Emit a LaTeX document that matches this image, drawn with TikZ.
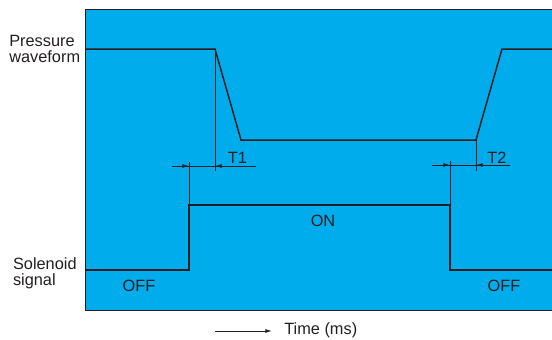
\documentclass[tikz,border=0pt]{standalone}
\usepackage{fontspec}
\setmainfont{Liberation Sans}
\usepackage{xcolor}
\usetikzlibrary{arrows.meta}
\definecolor{plotcyan}{RGB}{0,172,236}
\definecolor{inkgrey}{RGB}{35,31,32}
\tikzset{
  wave/.style={draw=inkgrey,line width=0.9pt,line join=miter},
  guide/.style={draw=inkgrey,line width=0.55pt},
  dimarrow/.style={guide,-{Latex[length=4pt,width=2.4pt]}},
  lbl/.style={font=\fontsize{9.8}{9.4}\selectfont,text=inkgrey,inner sep=0pt},
}

\begin{document}
\begin{tikzpicture}[x=0.6pt,y=-0.6pt]
  \useasboundingbox (0,0) rectangle (552,340);
  % background panel
  \fill[plotcyan] (85,10) rectangle (552,310);
  \draw[inkgrey,line width=0.6pt] (552,10) -- (85,10) -- (85,310) -- (552,310);
  % pressure waveform
  \coordinate (p1) at (215,49);
  \coordinate (p2) at (241,140);
  \coordinate (p3) at (476,140);
  \coordinate (p4) at (502,49);
  \draw[wave] (85,49) -- (p1) -- (p2) -- (p3) -- (p4) -- (552,49);
  % solenoid signal
  \coordinate (s1) at (189,205);
  \coordinate (s2) at (450,205);
  \draw[wave] (85,270) -- (189,270) -- (s1) -- (s2) -- (450,270) -- (552,270);
  % extension lines
  \draw[guide] (p1) -- (215,171);
  \draw[guide] (p3) -- (476,171);
  \draw[guide] (s1) -- (189,162);
  \draw[guide] (s2) -- (450,161);
  % delay T1
  \coordinate (a1) at (172,166);
  \coordinate (a2) at (189,166);
  \coordinate (a3) at (215,166);
  \coordinate (a4) at (256,166);
  \draw[guide] (a1) -- (a4);
  \draw[dimarrow] (a1) -- (a2);
  \draw[dimarrow] (a4) -- (a3);
  \node[lbl] (t1) at (237.5,158) {T1};
  % delay T2
  \coordinate (b1) at (432,165);
  \coordinate (b2) at (450,165);
  \coordinate (b3) at (476,165);
  \coordinate (b4) at (510,165);
  \draw[guide] (b1) -- (b4);
  \draw[dimarrow] (b1) -- (b2);
  \draw[dimarrow] (b4) -- (b3);
  \node[lbl] (t2) at (497,157.5) {T2};
  % state labels
  \node[lbl] (on) at (323,221) {ON};
  \node[lbl] (offl) at (139,286) {OFF};
  \node[lbl] (offr) at (504,286) {OFF};
  \node[lbl,anchor=west,align=left] (press) at (9,49) {Pressure\\waveform};
  \node[lbl,anchor=west,align=left] (sol) at (12.7,273) {Solenoid\\signal};
  % time axis
  \coordinate (ta) at (215,331);
  \node[lbl,anchor=west] (time) at (284,330) {Time (ms)};
  \draw[guide,-{Latex[length=4pt,width=2.4pt]}] (ta) -- (272,331);
\end{tikzpicture}
\end{document}
